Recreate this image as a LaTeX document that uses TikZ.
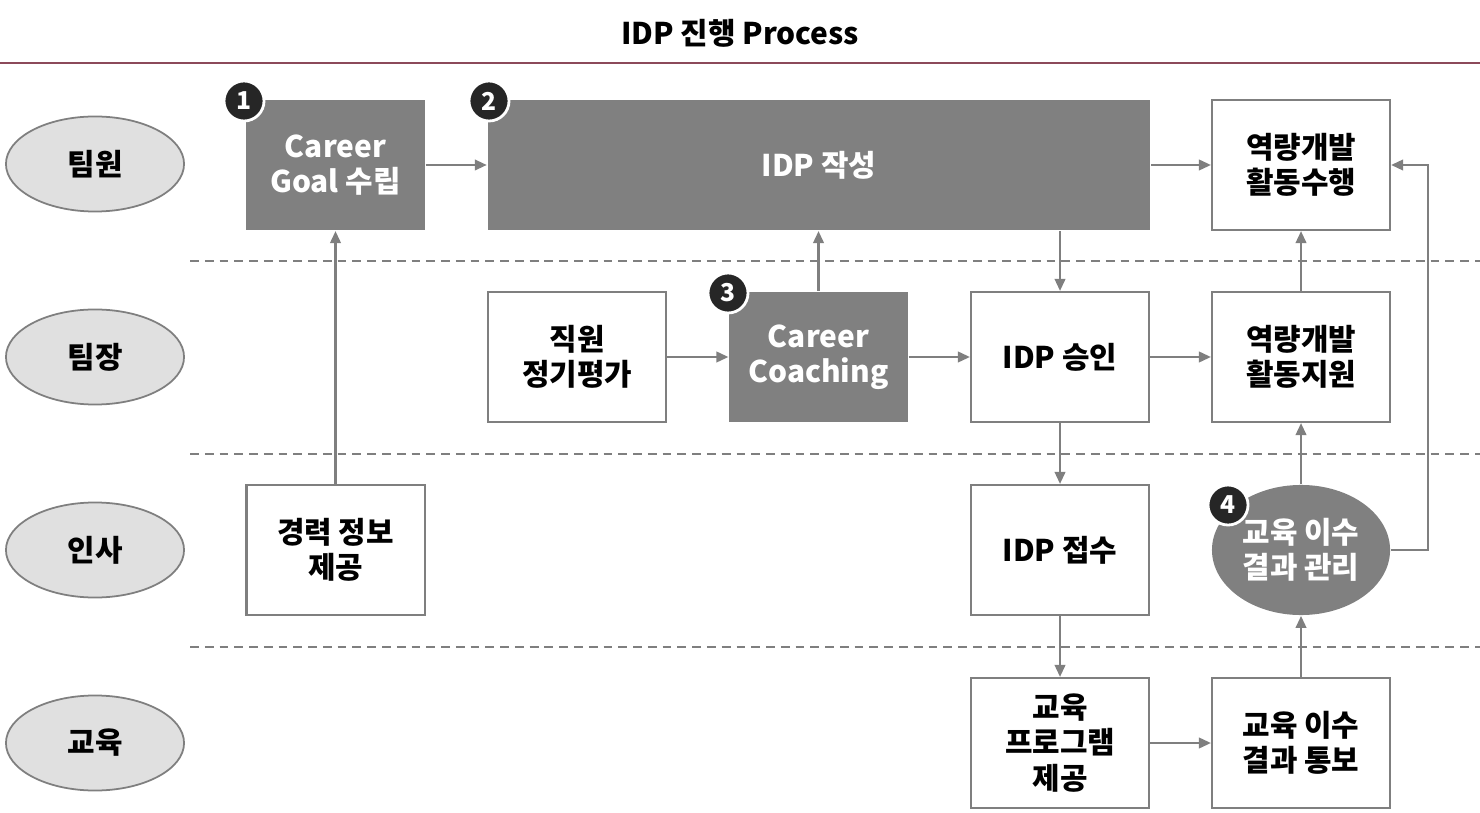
\documentclass[tikz,border=0pt]{standalone}
\usepackage{fontspec}
\setmainfont{Noto Sans CJK KR}
\usetikzlibrary{positioning,calc,shapes.geometric,arrows.meta}
\definecolor{linegray}{HTML}{7F7F7F}
\definecolor{boxgray}{HTML}{808080}
\definecolor{lanegray}{HTML}{E0E0E0}
\definecolor{rulered}{HTML}{8C4A5A}

\begin{document}
\begin{tikzpicture}[x=0.01cm,y=-0.01cm]
        \tikzset{
            act/.style={draw=linegray, line width=0.6pt, fill=white, minimum width=1.78cm, minimum height=1.30cm, inner sep=0pt, align=center, font=\bfseries\fontsize{8.5}{10}\selectfont},
            actdark/.style={act, draw=none, fill=boxgray, text=white},
            lane/.style={ellipse, draw=linegray, line width=0.5pt, fill=lanegray, minimum width=1.78cm, minimum height=0.95cm, inner sep=0pt, align=center, font=\bfseries\fontsize{8.5}{10}\selectfont},
            badge/.style={circle, fill=black!85, draw=white, line width=0.8pt, text=white, minimum size=0.4cm, inner sep=0pt, font=\bfseries\fontsize{7}{7}\selectfont},
            flow/.style={-{Triangle[length=3.4pt,width=3pt]}, linegray, line width=0.6pt},
            sep/.style={linegray, line width=0.5pt, dash pattern=on 2.5pt off 1.7pt}
        }
        \useasboundingbox (0,0) rectangle (1480,813);
        % title and rule
        \node[font=\bfseries\fontsize{8.5}{10}\selectfont] (title) at (740,33) {IDP 진행 Process};
        \draw[rulered, line width=0.6pt] (0,63) -- (1480,63);
        \draw[sep] (190,261) -- (1480,261);
        \draw[sep] (190,454) -- (1480,454);
        \draw[sep] (190,647) -- (1480,647);
        % lanes
        \node[lane] (L1) at (95,164) {팀원};
        \node[lane] (L2) at (95,357) {팀장};
        \node[lane] (L3) at (95,550) {인사};
        \node[lane] (L4) at (95,743) {교육};
        % boxes
        \node[actdark] (G) at (335.5,165) {Career\\Goal 수립};
        \node[actdark, minimum width=6.62cm] (W) at (819,165) {IDP 작성};
        \node[act] (D) at (1301,165) {역량개발\\활동수행};
        \node[act] (E) at (577,357) {직원\\정기평가};
        \node[actdark] (C) at (818.5,357) {Career\\Coaching};
        \node[act] (P) at (1060,357) {IDP 승인};
        \node[act] (S) at (1301,357) {역량개발\\활동지원};
        \node[act] (I) at (335.5,550) {경력 정보\\제공};
        \node[act] (R) at (1060,550) {IDP 접수};
        \node[lane, draw=none, fill=boxgray, text=white, minimum height=1.30cm] (M) at (1301,550) {교육 이수\\결과 관리};
        \node[act] (T) at (1060,743) {교육\\프로그램\\제공};
        \node[act] (N) at (1301,743) {교육 이수\\결과 통보};
        % badges
        \node[badge] (B1) at (244,101) {1};
        \node[badge] (B2) at (489,101) {2};
        \node[badge] (B3) at (728,293) {3};
        \node[badge] (B4) at (1228,505) {4};
        % flows
        \draw[flow] (I.north) -- (G.south);
        \draw[flow] (G.east) -- (W.west);
        \draw[flow] (W.east) -- (D.west);
        \draw[flow] (E.east) -- (C.west);
        \draw[flow] (C.north) -- (C.north |- W.south);
        \draw[flow] (C.east) -- (P.west);
        \draw[flow] (W.south -| P.north) -- (P.north);
        \draw[flow] (P.east) -- (S.west);
        \draw[flow] (S.north) -- (D.south);
        \draw[flow] (P.south) -- (R.north);
        \draw[flow] (R.south) -- (T.north);
        \draw[flow] (T.east) -- (N.west);
        \draw[flow] (N.north) -- (M.south);
        \draw[flow] (M.north) -- (S.south);
        \draw[flow] (M.east) -- ++(37,0) |- (D.east);
    \end{tikzpicture}
\end{document}
